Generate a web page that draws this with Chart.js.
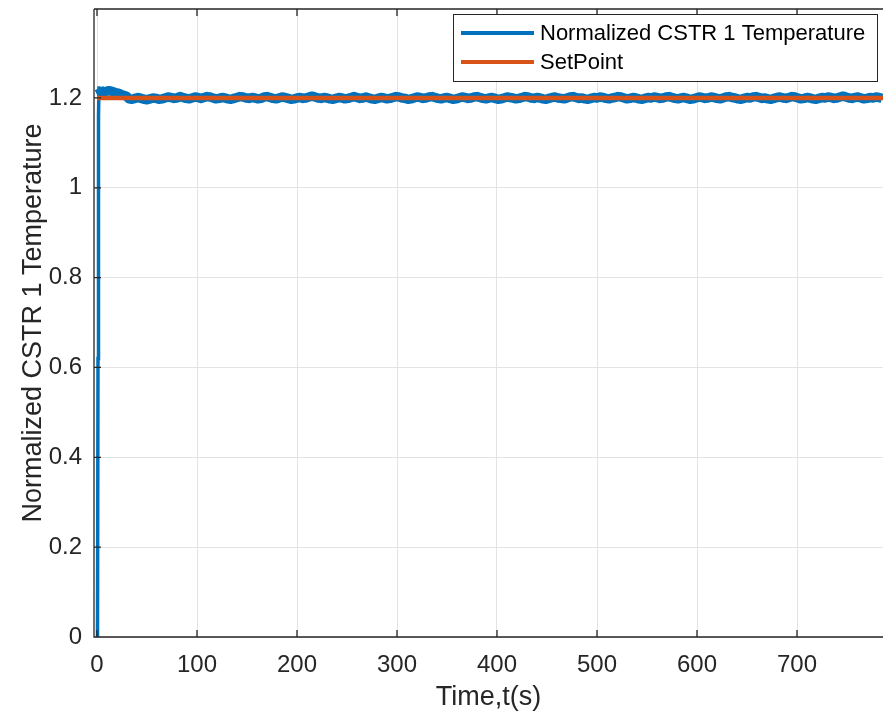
<!DOCTYPE html>
<html>
<head>
<meta charset="utf-8">
<script src="https://cdn.jsdelivr.net/npm/chart.js@4"></script>
<style>
  html,body{margin:0;padding:0;background:#fff;}
  #c{display:block;}
</style>
</head>
<body>
<canvas id="c" width="883" height="719"></canvas>
<script>
// rise at start of the run (time s, normalized temperature)
const riseT=[0,0.5,1,1.5,2];
const riseY=[0,0.01,0.62,1.16,1.226];

// overshoot and settling
const settleT=[2,4,6,8,10,12,14,16,18,20,22,24,26,28,30];
const settleY=[1.222,1.213,1.212,1.214,1.215,1.216,1.215,1.214,1.212,1.211,1.21,1.208,1.206,1.205,1.203];

// settled part, one sample every noiseStep seconds starting at noiseStart
const noiseStart=32, noiseStep=3;
const noiseY=[
 1.198,1.197,1.199,1.201,1.199,1.197,1.196,1.198,1.200,1.199,1.197,1.198,
 1.200,1.202,1.201,1.199,1.200,1.203,1.201,1.199,1.198,1.200,1.202,1.201,
 1.199,1.201,1.203,1.202,1.200,1.198,1.199,1.201,1.200,1.198,1.197,1.199,
 1.201,1.203,1.202,1.200,1.199,1.201,1.200,1.198,1.199,1.202,1.203,1.201,
 1.199,1.198,1.200,1.202,1.201,1.199,1.197,1.198,1.200,1.201,1.199,1.200,
 1.202,1.204,1.202,1.200,1.199,1.201,1.200,1.198,1.197,1.199,1.201,1.200,
 1.198,1.199,1.201,1.203,1.201,1.199,1.200,1.202,1.200,1.198,1.197,1.199,
 1.201,1.200,1.198,1.199,1.201,1.203,1.202,1.200,1.199,1.197,1.198,1.200,
 1.202,1.201,1.199,1.200,1.202,1.203,1.201,1.199,1.198,1.200,1.201,1.199,
 1.197,1.198,1.200,1.202,1.201,1.199,1.200,1.202,1.203,1.201,1.199,1.198,
 1.200,1.201,1.199,1.197,1.198,1.200,1.202,1.201,1.200,1.198,1.199,1.201,
 1.203,1.202,1.200,1.199,1.201,1.200,1.198,1.197,1.199,1.201,1.202,1.200,
 1.199,1.198,1.200,1.202,1.203,1.201,1.199,1.200,1.198,1.197,1.199,1.201,
 1.200,1.202,1.201,1.199,1.198,1.200,1.201,1.203,1.202,1.200,1.198,1.199,
 1.201,1.200,1.198,1.197,1.199,1.201,1.200,1.202,1.201,1.199,1.200,1.202,
 1.203,1.201,1.199,1.198,1.200,1.201,1.199,1.197,1.198,1.200,1.202,1.201,
 1.199,1.200,1.202,1.201,1.199,1.198,1.200,1.202,1.203,1.201,1.200,1.198,
 1.197,1.199,1.201,1.200,1.202,1.203,1.201,1.199,1.200,1.198,1.197,1.199,
 1.201,1.202,1.200,1.199,1.201,1.203,1.202,1.200,1.198,1.199,1.201,1.200,
 1.198,1.197,1.199,1.201,1.200,1.202,1.201,1.199,1.200,1.202,1.204,1.202,
 1.200,1.199,1.201,1.202,1.200,1.198,1.199,1.201,1.200,1.202,1.201,1.199
];

const setpointT=[0,786];
const setpointY=[1.2,1.2];

const xTicks=[0,100,200,300,400,500,600,700];
const yTicks=[0,0.2,0.4,0.6,0.8,1,1.2];
const xRange=[-3,786], yRange=[0,1.398];

const seriesNames=['Normalized CSTR 1 Temperature','SetPoint'];
const seriesColors=['#0072BD','#D95319'];

const risePts=riseT.map((t,i)=>({x:t,y:riseY[i]}));
const bandPts=settleT.map((t,i)=>({x:t,y:settleY[i]}))
  .concat(noiseY.map((v,i)=>({x:noiseStart+i*noiseStep,y:v})));
const spPts=setpointT.map((t,i)=>({x:t,y:setpointY[i]}));

const AX='#262626', GRID='#e3e3e3', FONT='"Liberation Sans", Arial, Helvetica, sans-serif';

// matlab style box, inward ticks and legend
const boxPlugin={
  id:'box',
  afterDraw(chart){
    const {ctx,chartArea:a,scales:{x,y}}=chart;
    ctx.save();
    ctx.strokeStyle=AX; ctx.lineWidth=1.3;
    ctx.beginPath();
    ctx.moveTo(a.left,a.top); ctx.lineTo(a.right,a.top);
    ctx.moveTo(a.left,a.top); ctx.lineTo(a.left,a.bottom); ctx.lineTo(a.right,a.bottom);
    xTicks.forEach(v=>{const px=x.getPixelForValue(v); ctx.moveTo(px,a.bottom); ctx.lineTo(px,a.bottom-7); ctx.moveTo(px,a.top); ctx.lineTo(px,a.top+7);});
    yTicks.forEach(v=>{const py=y.getPixelForValue(v); ctx.moveTo(a.left,py); ctx.lineTo(a.left+7,py);});
    ctx.stroke();
    // legend
    const lx=453, ly=14, lw=424, lh=67;
    ctx.fillStyle='#fff'; ctx.fillRect(lx,ly,lw,lh);
    ctx.strokeStyle=AX; ctx.lineWidth=1; ctx.strokeRect(lx+0.5,ly+0.5,lw,lh);
    ctx.font='22px '+FONT; ctx.textBaseline='middle'; ctx.fillStyle='#000';
    seriesNames.forEach((n,i)=>{
      const yy=ly+19+i*29;
      ctx.strokeStyle=seriesColors[i]; ctx.lineWidth=4;
      ctx.beginPath(); ctx.moveTo(lx+8,yy); ctx.lineTo(lx+81,yy); ctx.stroke();
      ctx.fillText(n,lx+87,yy+1);
    });
    ctx.restore();
  }
};

const noPad=s=>{s.paddingTop=0;s.paddingBottom=0;s.paddingLeft=0;s.paddingRight=0;};

new Chart(document.getElementById('c'),{
  type:'line',
  data:{datasets:[
    {label:seriesNames[0],data:risePts,borderColor:seriesColors[0],borderWidth:3.5,pointRadius:0,tension:0,order:2},
    {label:seriesNames[0],data:bandPts,borderColor:seriesColors[0],borderWidth:9.5,borderJoinStyle:'round',pointRadius:0,tension:0,order:1},
    {label:seriesNames[1],data:spPts,borderColor:seriesColors[1],borderWidth:4.5,pointRadius:0,tension:0,order:0}
  ]},
  options:{
    responsive:false,animation:false,devicePixelRatio:1,
    layout:{padding:{top:9,left:0,right:0,bottom:0}},
    plugins:{legend:{display:false},tooltip:{enabled:false}},
    scales:{
      x:{type:'linear',min:xRange[0],max:xRange[1],
        afterFit(s){s.height=82;noPad(s)},
        afterBuildTicks(s){s.ticks=xTicks.map(v=>({value:v}))},
        grid:{color:GRID,lineWidth:1,drawTicks:false},border:{display:false},
        ticks:{padding:14,color:AX,font:{family:FONT,size:24},maxRotation:0,autoSkip:false},
        title:{display:true,text:'Time,t(s)',color:AX,font:{family:FONT,size:27},padding:{top:0,bottom:5}}},
      y:{type:'linear',min:yRange[0],max:yRange[1],
        afterFit(s){s.width=94;noPad(s)},
        afterBuildTicks(s){s.ticks=yTicks.map(v=>({value:v}))},
        grid:{color:GRID,lineWidth:1,drawTicks:false},border:{display:false},
        ticks:{padding:12,color:AX,font:{family:FONT,size:24},autoSkip:false,callback:v=>String(v)},
        title:{display:true,text:'Normalized CSTR 1 Temperature',color:AX,font:{family:FONT,size:27},padding:{top:17,bottom:0}}}
    }
  },
  plugins:[boxPlugin]
});
</script>
</body>
</html>
